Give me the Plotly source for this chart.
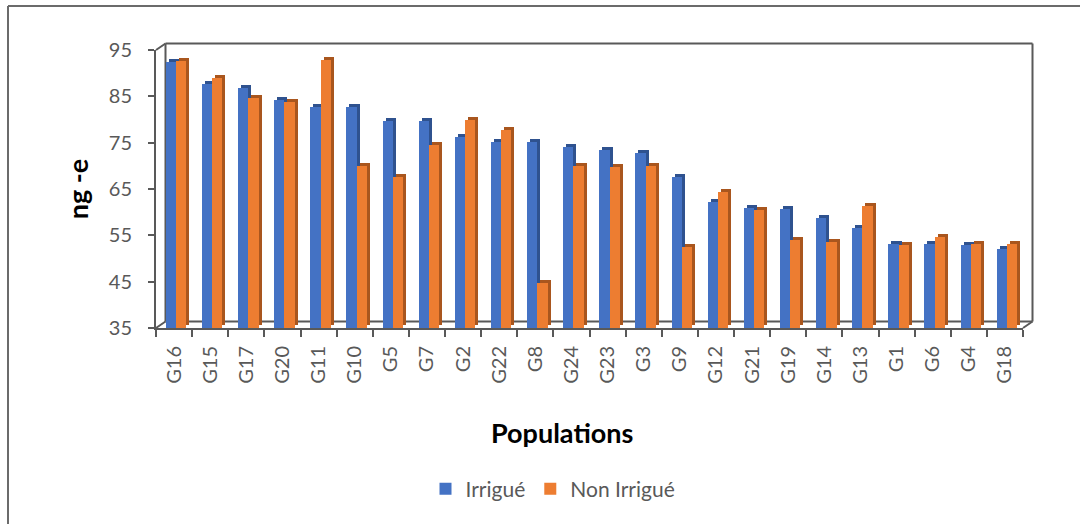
import plotly.graph_objects as go

# Populations (ordered as on the axis) and their values per treatment
populations = ["G16", "G15", "G17", "G20", "G11", "G10", "G5", "G7", "G2", "G22", "G8", "G24",
               "G23", "G3", "G9", "G12", "G21", "G19", "G14", "G13", "G1", "G6", "G4", "G18"]
irrigue = [92.5, 87.6, 86.9, 84.3, 82.8, 82.6, 79.7, 79.7, 76.3, 75.1, 75.1, 74.0,
           73.5, 72.7, 67.6, 62.1, 60.8, 60.6, 58.8, 56.6, 53.2, 53.1, 52.9, 52.0]
non_irrigue = [92.7, 89.0, 84.7, 83.8, 92.8, 70.0, 67.6, 74.5, 79.9, 77.7, 44.8, 70.0,
               69.7, 70.0, 52.5, 64.3, 60.4, 53.9, 53.6, 61.4, 52.9, 54.7, 53.2, 53.2]
y_ticks = [35, 45, 55, 65, 75, 85, 95]

Y_MIN, Y_MAX = 35, 95
W, H = 1080, 524
L, R, T, B = 156, 1023, 50, 328          # plot area in pixels
PW, PH = R - L, B - T

BLUE, BLUE_DARK = "#4472C4", "#2F528F"
ORANGE, ORANGE_DARK = "#ED7D31", "#A9561E"
AXIS = "#595959"
FONT = "Lato, 'Open Sans', sans-serif"

# bar geometry in data units (1 category = PW/24 px)
cat_px = PW / len(populations)
unit_per_px_y = (Y_MAX - Y_MIN) / PH
bar_w = 10.3 / cat_px
shift = 2.0 / cat_px
depth_x = 3.0 / cat_px
depth_y = 3.0 * unit_per_px_y

idx = list(range(len(populations)))
x_irr = [i + shift - bar_w / 2 for i in idx]
x_non = [i + shift + bar_w / 2 for i in idx]


def side(xs, vals, color):
    # darker extruded body behind the front face gives the side/top of the 3D bar
    return go.Bar(x=[x + depth_x for x in xs], y=[v - Y_MIN for v in vals],
                  base=Y_MIN + depth_y, width=bar_w, marker=dict(color=color, line=dict(width=0)),
                  showlegend=False, hoverinfo="skip")


def front(xs, vals, color, name):
    return go.Bar(x=xs, y=[v - Y_MIN for v in vals], base=Y_MIN, width=bar_w, name=name,
                  marker=dict(color=color, line=dict(width=0)),
                  customdata=vals, hovertemplate="%{customdata}<extra>" + name + "</extra>")


fig = go.Figure([
    side(x_irr, irrigue, BLUE_DARK),
    front(x_irr, irrigue, BLUE, "Irrigué"),
    side(x_non, non_irrigue, ORANGE_DARK),
    front(x_non, non_irrigue, ORANGE, "Non Irrigué"),
])


def px(x):
    return (x - L) / PW


def py(y):
    return (B - y) / PH


def seg(x0, y0, x1, y1, width=2, color=AXIS, layer="below"):
    return dict(type="line", xref="paper", yref="paper", x0=px(x0), y0=py(y0), x1=px(x1), y1=py(y1),
                line=dict(color=color, width=width), layer=layer)


DX, DY = 9.5, 6.5   # offset of the back walls
shapes = [
    seg(L + DX, T - DY, R + DX, T - DY),            # back top edge
    seg(L + DX, T - DY, L + DX, B - DY),            # back left edge
    seg(R + DX, T - DY, R + DX, B - DY, layer="above"),  # right wall edge
    seg(L + DX, B - DY, R + DX, B - DY),            # back floor edge
    seg(L, T, L + DX, T - DY),                      # top-left diagonal
    seg(L, B, L + DX, B - DY),                      # bottom-left diagonal
    seg(R, B, R + DX, B - DY, layer="above"),       # bottom-right diagonal
    # chart border
    seg(8, 6, W + 5, 6, width=2, color="#6b6b6b", layer="above"),
    seg(8, 6, 8, H + 5, width=2, color="#6b6b6b", layer="above"),
]

fig.update_layout(
    width=W, height=H,
    margin=dict(l=L, r=W - R, t=T, b=H - B, autoexpand=False),
    paper_bgcolor="white", plot_bgcolor="white",
    barmode="overlay", bargap=0,
    font=dict(family=FONT, color=AXIS, size=20),
    shapes=shapes,
    annotations=[dict(text="<b>Populations</b>", xref="paper", yref="paper",
                      x=px(562), y=py(433), xanchor="center", yanchor="middle", showarrow=False,
                      font=dict(size=27, color="black", family=FONT))],
    showlegend=True,
    legend=dict(orientation="h", x=px(553), xanchor="center", y=py(489), yanchor="middle",
                font=dict(size=21, color=AXIS, family=FONT), traceorder="normal",
                itemwidth=30),
    xaxis=dict(range=[-0.5, len(populations) - 0.5], tickmode="array", tickvals=idx,
               ticktext=populations, tickangle=-90, ticks="", showgrid=False, zeroline=False,
               showline=True, linecolor=AXIS, linewidth=2, ticklabelstandoff=8,
               tickfont=dict(size=20, color=AXIS, family=FONT),
               minor=dict(tickmode="linear", tick0=-0.5, dtick=1, ticks="outside",
                          ticklen=7, tickcolor=AXIS, tickwidth=1.5)),
    yaxis=dict(range=[Y_MIN, Y_MAX], tickmode="array", tickvals=y_ticks, ticks="outside",
               ticklen=6, tickcolor=AXIS, tickwidth=1.5, showgrid=False, zeroline=False,
               showline=True, linecolor=AXIS, linewidth=2, ticklabelstandoff=12,
               tickfont=dict(size=20, color=AXIS, family=FONT),
               title=dict(text="<b>ng -e</b>", standoff=12,
                          font=dict(size=27, color="black", family=FONT))),
)

fig.write_html("out.html")
